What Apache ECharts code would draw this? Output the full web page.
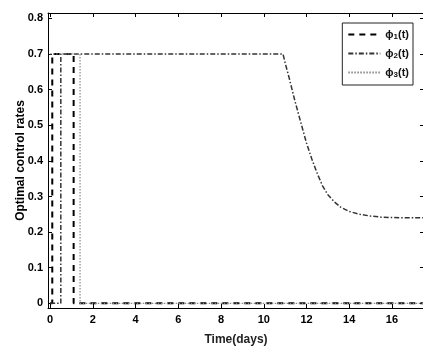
<!DOCTYPE html>
<html>
<head>
<meta charset="utf-8">
<script src="https://cdn.jsdelivr.net/npm/echarts@6/dist/echarts.min.js"></script>
<style>
  html, body { margin: 0; padding: 0; background: #fff; overflow: hidden; }
  #chart { width: 432px; height: 351px; }
</style>
</head>
<body>
<div id="chart"></div>
<script>
// Control rate phi_1(t): bang-bang profile at the upper bound early on
const phi1T = [0, 0.1, 0.1, 1.1, 1.1, 17.6];
const phi1V = [0, 0, 0.7, 0.7, 0, 0];

// Control rate phi_2(t): held at 0.7 until ~11 days, then relaxes toward ~0.24
const phi2T = [0, 0.5, 0.5, 10.9, 11.0, 11.2, 11.45, 11.7, 12.0, 12.25, 12.5, 12.75, 13.0, 13.3, 13.6, 14.0, 14.5, 15.0, 15.5, 16.5, 17.6];
const phi2V = [0, 0, 0.7, 0.7, 0.675, 0.63, 0.57, 0.515, 0.45, 0.405, 0.365, 0.33, 0.305, 0.285, 0.27, 0.258, 0.25, 0.245, 0.242, 0.24, 0.24];

// Control rate phi_3(t)
const phi3T = [0, 1.4, 1.4, 17.6];
const phi3V = [0.7, 0.7, 0, 0];

// Tick positions
const xTicks = [0, 2, 4, 6, 8, 10, 12, 14, 16];
const yTicks = [0, 0.1, 0.2, 0.3, 0.4, 0.5, 0.6, 0.7, 0.8];

const seriesNames = ['ϕ1(t)', 'ϕ2(t)', 'ϕ3(t)'];

function pairs(ts, vs) { return ts.map((t, i) => [t, vs[i]]); }

const FONT = 'Liberation Sans, Arial, Helvetica, sans-serif';
const chart = echarts.init(document.getElementById('chart'), null, { renderer: 'canvas' });

const frameLine = { show: true, onZero: false, lineStyle: { color: '#000', width: 1 } };

const option = {
  animation: false,
  backgroundColor: '#fff',
  grid: { left: 48, top: 13, right: 8, bottom: 39 },
  xAxis: [{
    type: 'value', min: -0.1, max: 17.5,
    axisLine: frameLine,
    axisTick: { show: true, inside: true, length: 4, customValues: xTicks, lineStyle: { color: '#000' } },
    axisLabel: { customValues: xTicks, hideOverlap: false, color: '#000', fontFamily: FONT, fontSize: 11, fontWeight: 'bold', margin: 6 },
    splitLine: { show: false },
    name: 'Time(days)', nameLocation: 'middle', nameGap: 26, nameMoveOverlap: false,
    nameTextStyle: { color: '#222', fontFamily: FONT, fontSize: 12, fontWeight: 'bold' }
  }, {
    type: 'value', min: -0.1, max: 17.5, position: 'top',
    axisLine: frameLine,
    axisTick: { show: true, inside: true, length: 4, customValues: xTicks, lineStyle: { color: '#000' } },
    axisLabel: { show: false }, splitLine: { show: false }
  }],
  yAxis: [{
    type: 'value', min: -0.013, max: 0.815,
    axisLine: frameLine,
    axisTick: { show: true, inside: true, length: 4, customValues: yTicks, lineStyle: { color: '#000' } },
    axisLabel: { customValues: yTicks, hideOverlap: false, color: '#000', fontFamily: FONT, fontSize: 11, fontWeight: 'bold', margin: 5,
      formatter: v => String(Math.round(v * 10) / 10) },
    splitLine: { show: false },
    name: 'Optimal control rates', nameLocation: 'middle', nameGap: 21, nameRotate: 90, nameMoveOverlap: false,
    nameTextStyle: { color: '#000', fontFamily: FONT, fontSize: 12, fontWeight: 'bold' }
  }, {
    type: 'value', min: -0.013, max: 0.815, position: 'right',
    axisLine: frameLine,
    axisTick: { show: true, inside: true, length: 4, customValues: yTicks, lineStyle: { color: '#000' } },
    axisLabel: { show: false }, splitLine: { show: false }
  }],
  legend: {
    right: 19, top: 23, orient: 'vertical',
    itemWidth: 32, itemHeight: 12, itemGap: 7,
    padding: [6, 4, 6, 5],
    backgroundColor: '#fff', borderColor: '#222', borderWidth: 1,
    itemStyle: { opacity: 0 },
    data: seriesNames,
    formatter: name => {
      const idx = name.charAt(1);
      return '{p|ϕ}{s|' + idx + '}{p|(t)}';
    },
    textStyle: {
      rich: {
        p: { fontFamily: FONT, fontSize: 11, fontWeight: 'bold', color: '#111' },
        s: { fontFamily: FONT, fontSize: 8, fontWeight: 'bold', color: '#111', verticalAlign: 'bottom', padding: [5, 0, 0, 0] }
      }
    }
  },
  series: [
    {
      name: seriesNames[0], type: 'line', symbol: 'none', silent: true,
      data: pairs(phi1T, phi1V),
      lineStyle: { color: '#000', width: 2, type: [6, 5] }, itemStyle: { color: '#000' }
    },
    {
      name: seriesNames[1], type: 'line', symbol: 'none', silent: true,
      data: pairs(phi2T, phi2V),
      lineStyle: { color: '#333', width: 1.5, type: [5, 2, 1.5, 2] }, itemStyle: { color: '#333' }
    },
    {
      name: seriesNames[2], type: 'line', symbol: 'none', silent: true,
      data: pairs(phi3T, phi3V),
      lineStyle: { color: '#888', width: 1.2, type: [1.5, 1.5] }, itemStyle: { color: '#888' }
    }
  ]
};

chart.setOption(option);
</script>
</body>
</html>
